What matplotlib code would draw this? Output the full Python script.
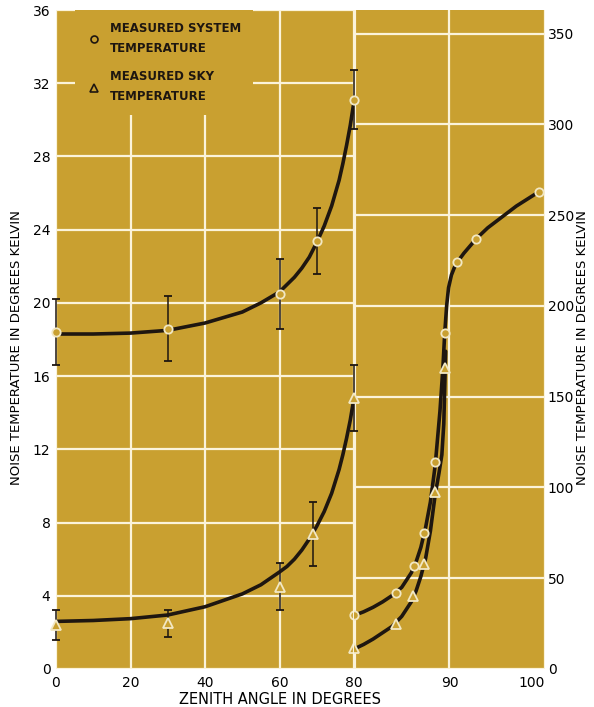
import matplotlib.pyplot as plt
from matplotlib.lines import Line2D

# measured points, left panel (zenith 0-80 deg, left scale)
left_angle = [0, 30, 60, 70, 80]
left_system = [18.4, 18.6, 20.5, 23.4, 31.1]
left_system_err = [1.8, 1.8, 1.9, 1.8, 1.6]
left_sky_angle = [0, 30, 60, 69, 80]
left_sky = [2.4, 2.5, 4.5, 7.4, 14.8]
left_sky_err = [0.8, 0.75, 1.3, 1.75, 1.8]

# faired curves, left panel
left_curve_angle = [0, 10, 20, 30, 40, 50, 55, 60, 62, 64, 66, 68, 70, 72, 74,
                    76, 77, 78, 79, 80]
left_system_curve = [18.3, 18.3, 18.35, 18.5, 18.9, 19.5, 20.0, 20.6, 21.0, 21.4,
                     21.9, 22.5, 23.3, 24.2, 25.3, 26.7, 27.6, 28.6, 29.7, 31.0]
left_sky_curve = [2.6, 2.65, 2.75, 2.95, 3.4, 4.1, 4.6, 5.3, 5.6, 6.0,
                  6.5, 7.1, 7.8, 8.6, 9.6, 10.9, 11.7, 12.6, 13.6, 14.8]

# measured points, right panel (zenith 80-100 deg, right scale)
right_system_angle = [80, 84.4, 86.3, 87.3, 88.5, 89.5, 90.8, 92.8, 99.4]
right_system = [29.7, 42, 57, 75, 114, 185, 224, 237, 263]
right_sky_angle = [80, 84.4, 86.2, 87.3, 88.5, 89.5]
right_sky = [11.6, 25, 40, 58, 97.5, 166]

# faired curves, right panel
right_sys_curve_angle = [80, 81, 82, 83, 84, 85, 86, 86.5, 87, 87.5, 88, 88.5, 89,
                         89.3, 89.5, 89.7, 89.9, 90.2, 90.5, 90.8, 91.5, 92.8, 94,
                         95.5, 97, 98.5, 99.4]
right_sys_curve = [29.5, 31.5, 34, 37, 40.5, 45, 53, 59, 67, 78, 92, 112, 142,
                   165, 185, 200, 210, 217, 221, 224, 229, 237, 243, 249, 255, 260, 263]
right_sky_curve_angle = [80, 81, 82, 83, 84, 85, 86, 86.5, 87, 87.5, 88, 88.5,
                         88.9, 89.2, 89.4, 89.5, 89.6]
right_sky_curve = [11, 13.5, 16.5, 20, 23.5, 29, 37, 43, 51, 61, 76, 96,
                   108, 118, 135, 155, 175]

left_xticks = [0, 20, 40, 60, 80]
left_yticks = [0, 4, 8, 12, 16, 20, 24, 28, 32, 36]
right_xticks = [90, 100]
right_yticks = [0, 50, 100, 150, 200, 250, 300, 350]

gold = '#c9a030'
ink = '#1e1610'
pale = '#f2e8c4'
grid_col = '#fbf3da'

plt.rcParams['font.family'] = ['DejaVu Sans']

fig = plt.figure(figsize=(5.94, 7.07), dpi=100)
fig.patch.set_facecolor('white')

# one gold plate behind both panels
bg = fig.add_axes([56 / 594, 38 / 707, 489 / 594, 659 / 707], zorder=0)
bg.set_facecolor(gold)
bg.set_xticks([])
bg.set_yticks([])
for s in bg.spines.values():
    s.set_visible(False)

ax1 = fig.add_axes([56 / 594, 38 / 707, 298 / 594, 659 / 707], zorder=3)
ax2 = fig.add_axes([354 / 594, 38 / 707, 191 / 594, 659 / 707], zorder=2)

for ax in (ax1, ax2):
    ax.patch.set_visible(False)
    for s in ax.spines.values():
        s.set_visible(False)
    ax.tick_params(length=0, labelsize=10, colors='black')
    ax.grid(True, color=grid_col, linewidth=1.6)
    ax.set_axisbelow(True)

# left panel
ax1.set_xlim(0, 80)
ax1.set_ylim(0, 36)
ax1.set_xticks(left_xticks)
ax1.set_yticks(left_yticks)
ax1.tick_params(axis='y', pad=4)
ax1.tick_params(axis='x', pad=5)

ax1.plot(left_curve_angle, left_system_curve, color=ink, lw=2.6, zorder=3,
         solid_capstyle='round')
ax1.plot(left_curve_angle, left_sky_curve, color=ink, lw=2.6, zorder=3,
         solid_capstyle='round')
ax1.errorbar(left_angle, left_system, yerr=left_system_err, fmt='o', ms=6,
             mfc=gold, mec=pale, mew=1.3, ecolor=ink, elinewidth=1.1, capsize=3,
             zorder=4, clip_on=False)
ax1.errorbar(left_sky_angle, left_sky, yerr=left_sky_err, fmt='^', ms=6.5,
             mfc=gold, mec=pale, mew=1.3, ecolor=ink, elinewidth=1.1, capsize=3,
             zorder=4, clip_on=False)

# right panel
ax2.set_xlim(80, 100)
ax2.set_ylim(0, 363)
ax2.set_xticks(right_xticks)
ax2.set_yticks(right_yticks)
ax2.yaxis.tick_right()
ax2.tick_params(axis='y', pad=2)
ax2.tick_params(axis='x', pad=5)
ax2.get_xticklabels()[-1].set_horizontalalignment('right')
ax2.get_xticklabels()[-1].set_x(99.6)

ax2.plot(right_sys_curve_angle, right_sys_curve, color=ink, lw=2.6, zorder=3,
         solid_capstyle='round')
ax2.plot(right_sky_curve_angle, right_sky_curve, color=ink, lw=2.6, zorder=3,
         solid_capstyle='round')
ax2.plot(right_system_angle, right_system, 'o', ms=6, mfc=gold, mec=pale, mew=1.3,
         zorder=4, clip_on=False)
ax2.plot(right_sky_angle, right_sky, '^', ms=6.5, mfc=gold, mec=pale, mew=1.3,
         zorder=4, clip_on=False)

# white divider at 80 degrees
ax2.axvline(80, color=grid_col, lw=3, zorder=2)

# legend
handles = [
    Line2D([], [], ls='none', marker='o', ms=5, mfc='none', mec=ink, mew=1.2),
    Line2D([], [], ls='none', marker='^', ms=5.5, mfc='none', mec=ink, mew=1.2),
]
labels = ['MEASURED SYSTEM\nTEMPERATURE', 'MEASURED SKY\nTEMPERATURE']
leg = ax1.legend(handles, labels, loc='upper left', bbox_to_anchor=(0.065, 1.0),
                 frameon=True, facecolor=gold, edgecolor='none', framealpha=1,
                 fancybox=False, prop={'weight': 'bold', 'size': 8.5},
                 handletextpad=0.7, handlelength=1.2, labelspacing=1.3,
                 borderpad=1.0, borderaxespad=0)
for t in leg.get_texts():
    t.set_color(ink)
    t.set_linespacing(1.7)

fig.text(280 / 594, 1 - 699 / 707, 'ZENITH ANGLE IN DEGREES', ha='center',
         va='center', fontsize=10.5)
fig.text(17 / 594, 1 - 348 / 707, 'NOISE TEMPERATURE IN DEGREES KELVIN',
         rotation=90, ha='center', va='center', fontsize=9.5)
fig.text(583 / 594, 1 - 348 / 707, 'NOISE TEMPERATURE IN DEGREES KELVIN',
         rotation=90, ha='center', va='center', fontsize=9.5)

fig.savefig('out.png', dpi=100)
